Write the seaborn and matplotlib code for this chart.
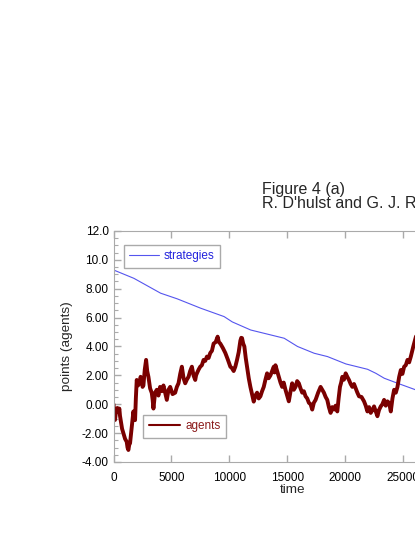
import matplotlib
matplotlib.use("Agg")
from matplotlib import pyplot as plt
from matplotlib.ticker import MultipleLocator
import seaborn as sns
import pandas as pd

# data
agent_time = [0, 65, 130, 230, 332, 420, 505, 560, 621, 740,
              851, 1000, 1140, 1210, 1285, 1360, 1429, 1570, 1717, 1790,
              1862, 1930, 2006, 2120, 2237, 2340, 2439, 2510, 2583, 2700,
              2815, 2910, 3016, 3160, 3305, 3380, 3449, 3590, 3738, 3880,
              4020, 4170, 4315, 4460, 4604, 4750, 4893, 5100, 5326, 5470,
              5614, 5760, 5903, 6050, 6192, 6330, 6480, 6620, 6769, 6910,
              7058, 7130, 7202, 7350, 7491, 7630, 7779, 7920, 8068, 8210,
              8357, 8500, 8645, 8820, 8992, 9100, 9223, 9440, 9656, 9870,
              10089, 10230, 10377, 10520, 10666, 10810, 10955, 11030, 11099, 11200,
              11301, 11420, 11532, 11680, 11821, 11960, 12109, 12250, 12398, 12540,
              12687, 12830, 12975, 13120, 13264, 13400, 13553, 13700, 13841, 13910,
              13986, 14130, 14274, 14420, 14563, 14700, 14852, 15000, 15140, 15290,
              15429, 15570, 15718, 15860, 16006, 16150, 16295, 16440, 16584, 16730,
              16872, 17020, 17161, 17300, 17450, 17670, 17883, 18030, 18171, 18320,
              18460, 18600, 18749, 18890, 19037, 19180, 19326, 19440, 19557, 19660,
              19760, 19900, 20048, 20190, 20336, 20480, 20625, 20770, 20914, 21060,
              21202, 21420, 21635, 21780, 21924, 22070, 22213, 22360, 22501, 22650,
              22790, 22930, 23079, 23220, 23367, 23510, 23656, 23800, 23945, 24090,
              24233, 24380, 24522, 24670, 24811, 24950, 25099, 25240, 25388, 25530,
              25676, 25890, 26109, 26500, 27000]
agent_pts = [0.0, -0.5, -1.09, -0.4, -0.26, -0.55, -0.3, -0.8, -1.1, -1.7,
             -2.0, -2.4, -2.6, -3.0, -3.17, -2.8, -2.7, -1.6, -0.5, -0.9,
             -1.1, 0.4, 1.68, 1.3, 1.45, 1.9, 1.68, 1.2, 1.3, 2.4,
             3.07, 2.3, 1.9, 1.1, 0.78, 0.3, -0.3, 0.8, 1.0, 0.6,
             1.2, 0.9, 1.3, 0.8, 0.3, 1.0, 1.2, 0.7, 0.8, 1.2,
             1.45, 2.1, 2.6, 1.8, 1.45, 1.7, 1.9, 2.3, 2.6, 2.0,
             1.68, 2.0, 2.14, 2.4, 2.6, 2.7, 3.07, 3.0, 3.3, 3.2,
             3.55, 3.7, 4.2, 4.3, 4.68, 4.3, 4.2, 3.9, 3.55, 3.1,
             2.6, 2.5, 2.3, 2.6, 3.07, 3.6, 4.4, 4.6, 4.58, 4.2,
             4.0, 3.2, 2.6, 1.8, 1.2, 0.7, 0.18, 0.6, 0.8, 0.4,
             0.55, 0.9, 1.2, 1.7, 2.14, 1.8, 2.0, 2.3, 2.6, 2.2,
             2.7, 2.3, 1.9, 1.5, 1.2, 1.5, 1.0, 0.6, 0.2, 0.9,
             1.45, 1.0, 1.2, 1.6, 1.45, 1.1, 0.8, 0.9, 0.55, 0.4,
             0.1, 0.0, -0.37, 0.1, 0.3, 0.8, 1.2, 1.0, 0.8, 0.5,
             0.3, -0.2, -0.6, -0.2, -0.37, -0.1, -0.5, 0.4, 1.2, 1.5,
             1.9, 1.7, 2.14, 1.9, 1.68, 1.4, 1.2, 1.4, 1.1, 0.8,
             0.55, 0.5, 0.2, -0.1, -0.5, -0.2, -0.6, -0.4, -0.15, -0.5,
             -0.83, -0.4, -0.15, 0.0, 0.3, -0.1, 0.2, 0.1, -0.5, 0.4,
             1.0, 0.8, 1.2, 1.9, 2.37, 2.1, 2.6, 2.7, 3.07, 2.9,
             3.3, 4.0, 4.68, 5.2, 5.6]

strat_time = [0, 1760, 4070, 5500, 7530, 9550, 10260, 11850, 14740, 15890, 17330, 18480,
              20070, 21940, 22660, 23380, 24540, 26120, 30000]
strat_pts = [9.30, 8.72, 7.69, 7.30, 6.65, 6.07, 5.70, 5.14, 4.57, 4.00, 3.53, 3.30,
             2.79, 2.42, 2.14, 1.80, 1.45, 0.99, 0.0]

y_ticks = [-4, -2, 0, 2, 4, 6, 8, 10, 12]
y_labels = ["-4.00", "-2.00", "0.00", "2.00", "4.00", "6.00", "8.00", "10.0", "12.0"]

agents = pd.DataFrame({"time": agent_time, "points": agent_pts})
strats = pd.DataFrame({"time": strat_time, "points": strat_pts})

sns.set_style("ticks")
plt.rcParams['font.family'] = ['Liberation Sans', 'DejaVu Sans']

fig = plt.figure(figsize=(4.15, 5.37), dpi=100)
ax = fig.add_axes([0.2735, 0.1397, 0.865, 0.4302])

sns.lineplot(data=strats, x="time", y="points", ax=ax, color='#5555ee', linewidth=0.8,
             sort=False, estimator=None, label='strategies')
sns.lineplot(data=agents, x="time", y="points", ax=ax, color='#7a0000', linewidth=2.8,
             sort=False, estimator=None, label='agents')

ax.set_xlim(0, 31000)
ax.set_ylim(-4, 12)
ax.set_xticks([0, 5000, 10000, 15000, 20000, 25000, 30000])
ax.set_yticks(y_ticks)
ax.set_yticklabels(y_labels)
ax.yaxis.set_minor_locator(MultipleLocator(0.5))
ax.tick_params(which='both', direction='in', colors='#aaaaaa', labelcolor='black',
               labelsize=8.5, top=True)
ax.tick_params(which='major', length=5, width=1)
ax.tick_params(which='minor', length=3, width=0.8)
ax.tick_params(axis='x', which='minor', bottom=False, top=False)
ax.tick_params(axis='x', which='major', pad=7.5)
for side in ['left', 'bottom', 'top']:
    ax.spines[side].set_color('#aaaaaa')
ax.spines['right'].set_visible(False)
ax.set_xlabel('time', fontsize=9.7, labelpad=0)
ax.set_ylabel('points (agents)', fontsize=9.7, labelpad=6)

# two separate legend boxes
h, l = ax.get_legend_handles_labels()
leg1 = ax.legend([h[0]], [l[0]], loc='upper left', bbox_to_anchor=(0.029, 0.939),
                 fancybox=False, framealpha=1, edgecolor='#aaaaaa', fontsize=8.5,
                 handlelength=2.5, handletextpad=0.4, borderpad=0.45, borderaxespad=0)
leg1.get_texts()[0].set_color('#2222dd')
leg1.get_frame().set_linewidth(1)
ax.add_artist(leg1)
leg2 = ax.legend([h[1]], [l[1]], loc='upper left', bbox_to_anchor=(0.083, 0.203),
                 fancybox=False, framealpha=1, edgecolor='#aaaaaa', fontsize=8.5,
                 handlelength=2.7, handletextpad=0.4, borderpad=0.45, borderaxespad=0)
leg2.get_texts()[0].set_color('#8b1a1a')
leg2.get_frame().set_linewidth(1)
leg2.get_lines()[0].set_linewidth(1.5)

fig.text(262 / 415, 1 - 194 / 537, "Figure 4 (a)", ha='left', va='baseline', fontsize=11.5)
fig.text(262 / 415, 1 - 208 / 537, "R. D'hulst and G. J. Rodgers", ha='left', va='baseline',
         fontsize=11.5)

fig.savefig('out.png', dpi=100)
